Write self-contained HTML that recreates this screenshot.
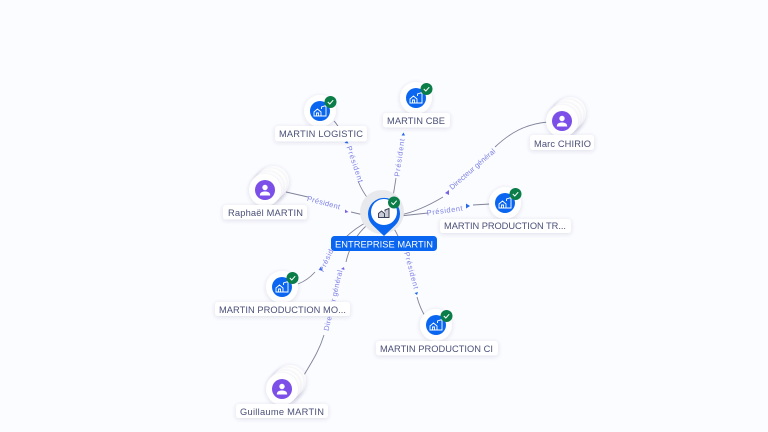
<!DOCTYPE html>
<html>
<head>
<meta charset="utf-8">
<style>
html,body{margin:0;padding:0;background:#fbfcff;width:768px;height:432px;overflow:hidden}
svg{display:block}
text{font-family:"Liberation Sans",sans-serif}
.l{font-size:9.3px;fill:#4b5078;text-anchor:middle}
.e{font-size:7.4px;fill:#7d80e4;text-anchor:middle}
.c{fill:none;stroke:#80839a;stroke-width:.9}
</style>
</head>
<body>
<svg width="768" height="432" viewBox="0 0 768 432" xmlns="http://www.w3.org/2000/svg">
<defs>
<filter id="s" x="-30%" y="-50%" width="160%" height="220%"><feDropShadow dx="0" dy="1" stdDeviation="2" flood-color="#3a4070" flood-opacity=".16"/></filter>
<g id="co">
  <circle r="16" fill="#fff" filter="url(#s)"/>
  <circle r="10" fill="#0a66f0"/>
  <path d="M-6 5v-4l3.500-3 3.500 3v4zM-3.500 5v-3h2v3M1.500-2v-2l4.500-1.500v10.500h-5" fill="none" stroke="#fff" stroke-width=".9"/>
  <circle cx="10.500" cy="-9" r="6" fill="#0b7d48"/>
  <path d="M7.800-9l2 2 3.400-3.800" fill="none" stroke="#fff" stroke-width="1"/>
</g>
<g id="pe">
  <circle cx="8" cy="-8" r="16" fill="#fff" filter="url(#s)"/>
  <circle cx="5.500" cy="-5.500" r="16" fill="#fff" filter="url(#s)"/>
  <circle cx="2.500" cy="-2.500" r="16" fill="#fff" filter="url(#s)"/>
  <circle r="16" fill="#fff" filter="url(#s)"/>
  <circle r="10" fill="#7c4fe8"/>
  <circle cy="-2.500" r="2.700" fill="#fff"/>
  <path d="M-5.200 5.500c0-3 2.200-4 5.200-4s5.200 1 5.200 4z" fill="#fff"/>
</g>
</defs>
<rect width="768" height="432" fill="#fbfcff"/>

<!-- connectors -->
<path class="c" d="M334 121Q337 124 340 130"/>
<path class="c" d="M358 181Q362 191 369 200"/>
<path class="c" d="M396 178L393 197"/>
<path class="c" d="M548 122C525 124 510 133 495 147"/>
<path class="c" d="M443 197C428 206 415 212 400 215"/>
<path class="c" d="M473 205L490 204"/>
<path class="c" d="M400 216L428 213"/>
<path class="c" d="M286 192L308 197"/>
<path class="c" d="M351 212L368 216"/>
<path class="c" d="M298 284Q308 280 315 272"/>
<path class="c" d="M345 238Q355 228 369 221"/>
<path class="c" d="M304 375C315 357 320 348 324 335"/>
<path class="c" d="M346 262Q352 236 371 222"/>
<path class="c" d="M417 297Q420 308 425 316"/>
<path class="c" d="M393 227Q400 238 403 250"/>

<!-- arrowheads -->
<path d="M344.500 143L347 140.500L348.500 143.500z" fill="#2468e8"/>
<path d="M401.500 135.500L403.500 132.500L405 135.500z" fill="#2468e8"/>
<path d="M445 193L449 190L449 195z" fill="#7a62e6"/>
<path d="M466 203.500L470 206L466 208.500z" fill="#2468e8"/>
<path d="M345 209.500L348.500 212L345 213z" fill="#7a62e6"/>
<path d="M318.500 270L321 267L322.500 270.500z" fill="#2468e8"/>
<path d="M341 269L344 267L344.500 270z" fill="#7a62e6"/>
<path d="M414.500 293L418 292L417 295z" fill="#2468e8"/>

<!-- edge labels -->
<text class="e" transform="translate(352.500 165) rotate(71)" textLength="38">Président</text>
<text class="e" transform="translate(402 158) rotate(-82)" textLength="38">Président</text>
<text class="e" transform="translate(474 171) rotate(-41)" textLength="58">Directeur général</text>
<text class="e" transform="translate(445 213) rotate(-8)" textLength="36">Président</text>
<text class="e" transform="translate(323 205) rotate(15)" textLength="34">Président</text>
<text class="e" transform="translate(331 256) rotate(-65)" textLength="36">Président</text>
<text class="e" transform="translate(335.500 301) rotate(-77)" textLength="62">Directeur général</text>
<text class="e" transform="translate(409 271) rotate(75)" textLength="38">Président</text>

<!-- central node -->
<circle cx="382" cy="212" r="22" fill="#e8e9ec"/>
<path d="M384 236L373 225.500A16 16 0 1 1 395 225.500z" fill="#0a66f0"/>
<circle cx="384" cy="212" r="13" fill="#fff"/>
<path d="M378.500 217.500v-4l3-2.500 3 2.500v4zM385 211.500v-1.500l4-1.500v9h-4.500" fill="#c9cbd6" stroke="#3d4258" stroke-width="1"/>
<circle cx="394" cy="202.500" r="6" fill="#0b7d48"/>
<path d="M391.300 202.500l2 2 3.400-3.800" fill="none" stroke="#fff" stroke-width="1"/>
<rect x="331" y="236" width="106" height="15" rx="3.500" fill="#0a66f0"/>
<text x="384" y="247.500" font-size="9.300" fill="#fff" text-anchor="middle" textLength="98">ENTREPRISE MARTIN</text>

<!-- nodes -->
<use href="#co" x="320" y="111"/>
<use href="#co" x="416" y="98"/>
<use href="#co" x="505" y="203"/>
<use href="#co" x="282" y="287"/>
<use href="#co" x="436" y="325"/>
<use href="#pe" x="562" y="121"/>
<use href="#pe" x="265" y="190"/>
<use href="#pe" x="282" y="389"/>

<!-- labels -->
<rect x="275" y="126" width="92" height="15.500" rx="3" fill="#fff" filter="url(#s)"/>
<text class="l" x="321" y="137" textLength="84">MARTIN LOGISTIC</text>
<rect x="383" y="113" width="67" height="14.500" rx="3" fill="#fff" filter="url(#s)"/>
<text class="l" x="416" y="124" textLength="58">MARTIN CBE</text>
<rect x="530" y="135" width="64" height="15" rx="3" fill="#fff" filter="url(#s)"/>
<text class="l" x="562.500" y="147" textLength="57">Marc CHIRIO</text>
<rect x="440" y="219" width="131" height="14" rx="3" fill="#fff" filter="url(#s)"/>
<text class="l" x="505" y="229" textLength="122">MARTIN PRODUCTION TR...</text>
<rect x="223" y="205" width="84" height="14.500" rx="3" fill="#fff" filter="url(#s)"/>
<text class="l" x="265.500" y="216" textLength="75">Raphaël MARTIN</text>
<rect x="215" y="302" width="135" height="14" rx="3" fill="#fff" filter="url(#s)"/>
<text class="l" x="282.500" y="313" textLength="127">MARTIN PRODUCTION MO...</text>
<rect x="376" y="341" width="122" height="14.500" rx="3" fill="#fff" filter="url(#s)"/>
<text class="l" x="436.500" y="352" textLength="113">MARTIN PRODUCTION CI</text>
<rect x="236" y="404" width="92" height="14" rx="3" fill="#fff" filter="url(#s)"/>
<text class="l" x="282" y="415" textLength="84">Guillaume MARTIN</text>
</svg>
</body>
</html>
